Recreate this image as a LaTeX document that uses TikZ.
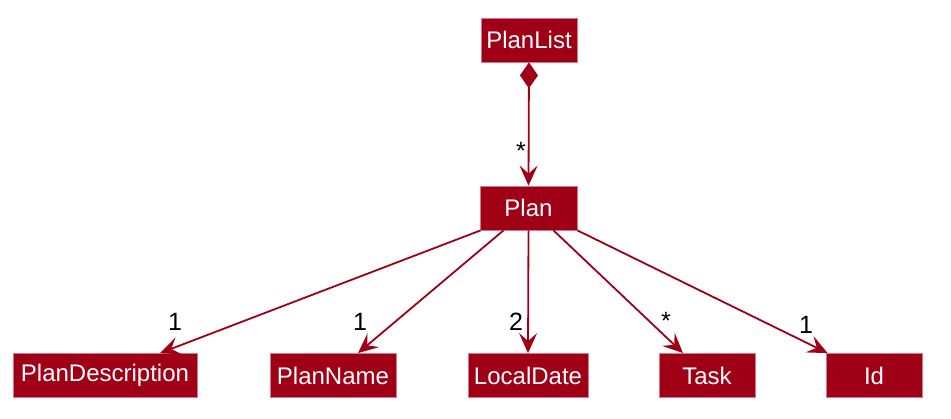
\documentclass[tikz,border=0pt]{standalone}
\usepackage{fontspec}
\setmainfont{Liberation Sans}
\usetikzlibrary{arrows.meta}
\definecolor{umlred}{RGB}{160,0,22}
\definecolor{umledge}{RGB}{214,120,140}
\tikzset{
  cls/.style={rectangle, fill=umlred, draw=umledge, line width=0.8pt, text=white,
    font=\fontsize{24}{24}\selectfont, minimum height=44pt, inner sep=0pt},
  link/.style={umlred, line width=1.8pt, -{Stealth[length=20pt,width=18pt,inset=8pt]}},
  mult/.style={font=\fontsize{25}{25}\selectfont, inner sep=0pt}
}
\begin{document}
\begin{tikzpicture}[x=1pt,y=1pt]
\useasboundingbox (0,0) rectangle (951,-419);
\node[cls, minimum width=96pt] (planlist) at (529,-40) {PlanList};
\node[cls, minimum width=97pt] (plan) at (528.5,-208) {Plan};
\node[cls, minimum width=184pt] (desc) at (105,-375.5) {PlanDescription};
\node[cls, minimum width=126pt] (name) at (333,-375.5) {PlanName};
\node[cls, minimum width=120pt] (date) at (528,-375.5) {LocalDate};
\node[cls, minimum width=96pt] (task) at (707,-375.5) {Task};
\node[cls, minimum width=96pt] (id) at (874,-375.5) {Id};
\draw[link, {Diamond[length=26pt,width=18pt]}-{Stealth[length=20pt,width=18pt,inset=8pt]}] (planlist.south) -- (plan.north);
\draw[link] ([xshift=1pt]plan.south west) -- ([xshift=55pt]desc.north);
\draw[link] ([xshift=-25pt]plan.south) -- ([xshift=25pt]name.north);
\draw[link] (plan.south) -- (date.north);
\draw[link] ([xshift=25pt]plan.south) -- ([xshift=-24pt]task.north);
\draw[link] (plan.south east) -- ([xshift=2pt]id.north west);
\node[mult] (mplan) at (521,-151) {*};
\node[mult] (mdesc) at (175,-322) {1};
\node[mult] (mname) at (360,-322) {1};
\node[mult] (mdate) at (516,-322) {2};
\node[mult] (mtask) at (666,-321) {*};
\node[mult] (mid) at (806,-325) {1};
\end{tikzpicture}
\end{document}
